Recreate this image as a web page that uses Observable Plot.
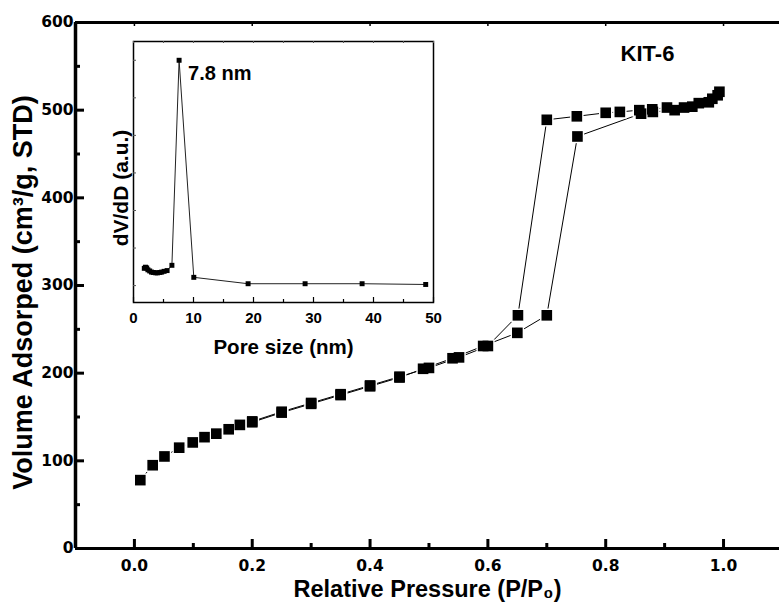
<!DOCTYPE html>
<html><head><meta charset="utf-8">
<script src="https://cdn.jsdelivr.net/npm/d3@7"></script>
<script src="https://cdn.jsdelivr.net/npm/@observablehq/plot@0.6"></script>
<style>
body{margin:0;background:#fff}
#wrap{position:relative;width:779px;height:606px}
#wrap svg{position:absolute;left:0;top:0}
</style></head><body><div id="wrap"></div>
<script>
// Adsorption branch
const adsP = [0.010,0.031,0.051,0.076,0.099,0.119,0.139,0.160,0.179,0.200,0.250,0.300,0.350,0.400,0.450,0.490,0.540,0.592,0.650,0.700,0.752,0.860,0.880,0.917,0.947,0.975,0.990];
const adsV = [78,95,105,115,121,127,131,136,141,144,155,165,175,185,195,205,217,231,246,266,470,496,498,500,504,509,517];
// Desorption branch
const desP = [0.993,0.981,0.958,0.933,0.904,0.879,0.857,0.824,0.800,0.751,0.700,0.651,0.600,0.551,0.500,0.450,0.400,0.350,0.300,0.250,0.200];
const desV = [521,513,508,503,503,501,500,498,497,493,489,266,231,218,206,196,186,176,166,156,145];
// Inset: pore size distribution
const poreD  = [1.8,2.0,2.2,2.4,2.7,3.0,3.3,3.7,4.0,4.4,4.7,5.1,5.6,6.4,7.6,10.05,19.1,28.6,38.1,48.7];
const poreDV = [0.46,0.49,0.47,0.42,0.39,0.36,0.35,0.34,0.34,0.35,0.36,0.38,0.40,0.54,6.0,0.22,0.05,0.05,0.05,0.03];

const xTicks = [0,0.2,0.4,0.6,0.8,1.0];
const xMinor = [0.1,0.3,0.5,0.7,0.9];
const yTicks = [0,100,200,300,400,500,600];
const yMinor = [50,150,250,350,450,550];
const poreTicks = [0,10,20,30,40,50];
const poreMinor = [5,15,25,35,45];
const dvTicks = [0,1,2,3,4,5,6];

const ads = adsP.map((p,i)=>({p, v:adsV[i]}));
const des = desP.map((p,i)=>({p, v:desV[i]}));
const pore = poreD.map((d,i)=>({d, v:poreDV[i]}));

const W = 779, H = 606, ML = 75, MR = 0, MT = 22, MB = 58;
const FW = W-ML-MR, FH = H-MT-MB;
const AR = "Liberation Sans, Arial, sans-serif";

const main = Plot.plot({
  width: W, height: H, marginLeft: ML, marginRight: MR, marginTop: MT, marginBottom: MB,
  style: {background: "white", fontFamily: AR, overflow: "visible"},
  x: {domain: [-0.1, 1.095], axis: null},
  y: {domain: [0, 600], axis: null},
  marks: [
    Plot.line(ads, {x: "p", y: "v", stroke: "black", strokeWidth: 1}),
    Plot.line(des, {x: "p", y: "v", stroke: "black", strokeWidth: 1}),
    Plot.dot([...ads, ...des], {x: "p", y: "v", symbol: "square", r: 7.6, fill: "white"}),
    Plot.dot(ads, {x: "p", y: "v", symbol: "square", r: 6, fill: "black"}),
    Plot.dot(des, {x: "p", y: "v", symbol: "square", r: 6, fill: "black"}),
    // frame lines
    Plot.ruleY([0, 600], {stroke: "black", strokeWidth: 3}),
    Plot.ruleX([-0.1], {stroke: "black", strokeWidth: 3.5}),
    // ticks (inward)
    Plot.tickX(xTicks, {x: d => d, insetTop: FH - 9, stroke: "black", strokeWidth: 3}),
    Plot.tickX(xMinor, {x: d => d, insetTop: FH - 5, stroke: "black", strokeWidth: 3}),
    Plot.tickX(xTicks, {x: d => d, insetBottom: FH - 4, stroke: "black", strokeWidth: 1.5}),
    Plot.tickY(yTicks, {y: d => d, insetRight: FW - 9, stroke: "black", strokeWidth: 3}),
    Plot.tickY(yMinor, {y: d => d, insetRight: FW - 5, stroke: "black", strokeWidth: 3}),
    // axes labels
    Plot.axisX(xTicks, {tickSize: 0, tickPadding: 11, tickFormat: d3.format(".1f"),
      fontFamily: "DejaVu Sans", fontWeight: "bold", fontSize: 15.5, label: null}),
    Plot.axisY(yTicks, {tickSize: 0, tickPadding: 2, tickFormat: d => d,
      fontFamily: "DejaVu Sans", fontWeight: "bold", fontSize: 15.5, label: null}),
    Plot.text(["Relative Pressure (P/P\u2080)"], {frameAnchor: "bottom", dy: 41,
      fontFamily: AR, fontWeight: "bold", fontSize: 23.5, textAnchor: "middle", lineAnchor: "middle", fill: "black"}),
    Plot.text(["Volume Adsorped (cm\u00b3/g, STD)"], {frameAnchor: "left", dx: -52, dy: 7, rotate: -90,
      fontFamily: AR, fontWeight: "bold", fontSize: 27, textAnchor: "middle", lineAnchor: "middle", fill: "black"}),
    Plot.text(["KIT-6"], {frameAnchor: "top", dx: 220, dy: 31,
      fontFamily: AR, fontWeight: "bold", fontSize: 22, textAnchor: "middle", lineAnchor: "middle", fill: "black"})
  ]
});

const IW = 460, IH = 360, IML = 133, IMR = 27, IMT = 41, IMB = 58;
const IFW = IW-IML-IMR, IFH = IH-IMT-IMB;
const peak = d3.greatest(pore, d => d.v);

const inset = Plot.plot({
  width: IW, height: IH, marginLeft: IML, marginRight: IMR, marginTop: IMT, marginBottom: IMB,
  style: {background: "transparent", fontFamily: AR, overflow: "visible"},
  x: {domain: [0, 50], axis: null},
  y: {domain: [-0.45, 6.5], axis: null},
  marks: [
    Plot.frame({stroke: "black", strokeWidth: 1.5}),
    Plot.tickX(poreTicks, {x: d => d, insetTop: IFH - 5, stroke: "black", strokeWidth: 1.2}),
    Plot.tickX(poreMinor, {x: d => d, insetTop: IFH - 3, stroke: "black", strokeWidth: 1.2}),
    Plot.tickX([...poreTicks, ...poreMinor], {x: d => d, insetBottom: IFH - 2, stroke: "#555", strokeWidth: 1}),
    Plot.tickY(dvTicks, {y: d => d, insetRight: IFW - 3, stroke: "#555", strokeWidth: 1}),
    Plot.line(pore, {x: "d", y: "v", stroke: "#222", strokeWidth: 1}),
    Plot.dot(pore, {x: "d", y: "v", symbol: "square", r: 2.8, fill: "black"}),
    Plot.axisX(poreTicks, {tickSize: 0, tickPadding: 10, tickFormat: d => d,
      fontFamily: AR, fontWeight: "bold", fontSize: 15, label: null}),
    Plot.text([peak], {x: "d", y: "v", text: () => "7.8 nm", dx: 9, dy: 13,
      fontFamily: AR, fontWeight: "bold", fontSize: 20, textAnchor: "start", lineAnchor: "middle", fill: "black"}),
    Plot.text(["Pore size (nm)"], {frameAnchor: "bottom", dy: 45,
      fontFamily: AR, fontWeight: "bold", fontSize: 20.5, textAnchor: "middle", lineAnchor: "middle", fill: "black"}),
    Plot.text(["dV/dD (a.u.)"], {frameAnchor: "left", dx: -12, dy: 16, rotate: -90,
      fontFamily: AR, fontWeight: "bold", fontSize: 21, textAnchor: "middle", lineAnchor: "middle", fill: "black"})
  ]
});

const wrap = document.getElementById("wrap");
wrap.appendChild(main);
wrap.appendChild(inset);
</script></body></html>
